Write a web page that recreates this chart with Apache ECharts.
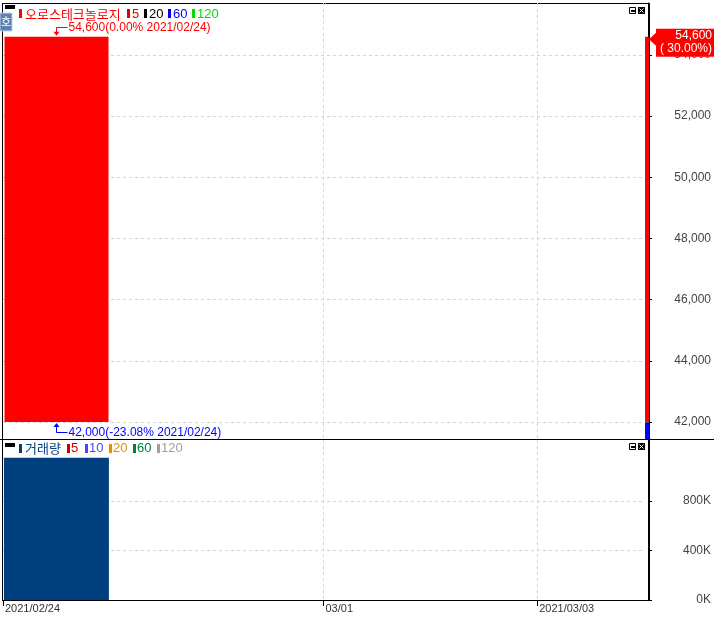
<!DOCTYPE html>
<html><head><meta charset="utf-8">
<script src="https://cdn.jsdelivr.net/npm/echarts@6/dist/echarts.min.js"></script>
<style>html,body{margin:0;padding:0;background:#fff;}#c{width:714px;height:617px;}</style>
</head><body><div id="c"></div>
<script>
// ---------- data ----------
const stockName = '오로스테크놀로지';
const volumeName = '거래량';
const dates = ['2021/02/24','2021/02/25','2021/02/26','2021/03/01','2021/03/02','2021/03/03'];
const xTickLabels = ['2021/02/24','','','03/01','','2021/03/03',''];
const ohlcOpen = [42000];
const ohlcClose = [54600];
const ohlcLow = [42000];
const ohlcHigh = [54600];
const volumes = [1150000];
const prevClose = 42000;
const priceRange = [41444, 55700];
const priceTicks = [42000, 44000, 46000, 48000, 50000, 52000, 54000];
const volumeRange = [0, 1293000];
const volumeTicks = [0, 400000, 800000];
const priceLegendLabels = ['5','20','60','120'];
const priceLegendColors = ['#e00000','#000000','#0000ff','#00dd00'];
const volLegendLabels = ['5','10','20','60','120'];
const volLegendColors = ['#d00000','#4646ff','#e09000','#008040','#a0a0a0'];

// ---------- styling ----------
const FONT = '"Liberation Sans","Noto Sans CJK KR",sans-serif';
const KFONT = '"Noto Sans CJK KR",sans-serif';
const fmt = v => Number(v).toLocaleString('en-US');

const candleData = ohlcOpen.map((o, i) => [o, ohlcClose[i], ohlcLow[i], ohlcHigh[i]]);

function rect(x, y, w, h, fill, extra) { return Object.assign({type:'rect', shape:{x, y, width:w, height:h}, style:{fill}}, extra||{}); }
function line(x1, y1, x2, y2, c) { return {type:'line', shape:{x1, y1, x2, y2}, style:{stroke:c||'#000', lineWidth:1}}; }
function txt(x, y, text, color, font) { return {type:'text', x, y, style:{text, fill:color, font, verticalAlign:'middle', align:'left'}}; }

const graphics = [];
// frame
graphics.push(line(2, 3.5, 649, 3.5));
graphics.push(line(2.5, 3, 2.5, 600));
graphics.push(line(649.5, 3, 649.5, 601));
graphics.push(line(0, 439.5, 714, 439.5));
graphics.push(line(2, 600.5, 650, 600.5));
// top-left black marks
graphics.push(rect(5, 5, 10, 4, '#000'));
graphics.push(rect(5, 443, 10, 4, '#000'));
// 호 button
graphics.push(rect(0, 13, 12, 18, '#5b80b2', {style:{fill:'#5b80b2', stroke:'#c8d4e6', lineWidth:1}}));
graphics.push({type:'text', x:6, y:22, style:{text:'호', fill:'#fff', font:'11px '+KFONT, align:'center', verticalAlign:'middle'}});
// window icons
[7, 443].forEach(y => {
  graphics.push(rect(629.5, y + 0.5, 6, 6, '#fff', {style:{fill:'#fff', stroke:'#000', lineWidth:1}}));
  graphics.push(rect(631, y + 3, 4, 2, '#000'));
  graphics.push(rect(638, y, 7, 7, '#000'));
  graphics.push(line(639.5, y + 1.5, 643.5, y + 5.5, '#fff'));
  graphics.push(line(643.5, y + 1.5, 639.5, y + 5.5, '#fff'));
});
// price legend
graphics.push(rect(19, 9, 3, 9, '#ff0000'));
graphics.push(txt(25, 14, stockName, '#ff0000', '13px ' + KFONT));
const plx = [127, 144, 168, 192];
priceLegendLabels.forEach((l, i) => {
  graphics.push(rect(plx[i], 9, 3, 9, priceLegendColors[i]));
  graphics.push(txt(plx[i] + 5, 14, l, priceLegendColors[i], '13px ' + FONT));
});
// volume legend
graphics.push(rect(19, 444, 3, 9, '#00407f'));
graphics.push(txt(25, 448, volumeName, '#00407f', '13px ' + KFONT));
const vlx = [67, 85, 109, 133, 157];
volLegendLabels.forEach((l, i) => {
  graphics.push(rect(vlx[i], 444, 3, 9, volLegendColors[i]));
  graphics.push(txt(vlx[i] + 4, 448, l, volLegendColors[i], '13px ' + FONT));
});

const dashed = {type:[3,3], color:'#d4d4d4', width:1};
const boundaryTick = (i, v) => v !== '';
const innerLine = (i, v) => v !== '' && i > 0;

const option = {
  animation: false,
  backgroundColor: '#fff',
  textStyle: {fontFamily: FONT},
  grid: [
    {left:3, top:3, width:642, height:436},
    {left:3, top:440, width:642, height:160}
  ],
  xAxis: [
    {type:'category', gridIndex:0, data:dates, position:'top', show:false, boundaryGap:true},
    {type:'category', gridIndex:0, data:xTickLabels, position:'bottom', boundaryGap:false,
      axisLine:{show:false}, axisTick:{show:false}, axisLabel:{show:false},
      splitLine:{show:true, interval:innerLine, lineStyle:dashed}},
    {type:'category', gridIndex:1, data:dates, position:'top', show:false, boundaryGap:true},
    {type:'category', gridIndex:1, data:xTickLabels, position:'bottom', boundaryGap:false,
      axisLine:{show:true, lineStyle:{color:'#000'}},
      axisTick:{show:true, interval:boundaryTick, length:6, lineStyle:{color:'#000'}},
      axisLabel:{show:true, interval:boundaryTick, align:'left', padding:[0,0,0,2], margin:3,
        color:'#333', fontSize:11, fontFamily:FONT},
      splitLine:{show:true, interval:innerLine, lineStyle:dashed}}
  ],
  yAxis: [
    {type:'value', gridIndex:0, position:'right', offset:4,
      min:priceRange[0], max:priceRange[1],
      axisLine:{show:true, lineStyle:{color:'#000'}},
      axisTick:{show:true, length:4, customValues:priceTicks, lineStyle:{color:'#000'}},
      axisLabel:{customValues:priceTicks, align:'right', margin:63,
        formatter:v => fmt(v), color:'#444', fontSize:12, fontFamily:FONT},
      splitLine:{show:true, showMinLine:true, showMaxLine:true, lineStyle:dashed}},
    {type:'value', gridIndex:1, position:'right', offset:4,
      min:volumeRange[0], max:volumeRange[1],
      axisLine:{show:true, lineStyle:{color:'#000'}},
      axisTick:{show:true, length:4, customValues:volumeTicks, lineStyle:{color:'#000'}},
      axisLabel:{customValues:volumeTicks, align:'right', margin:63,
        formatter:v => (v/1000) + 'K', color:'#444', fontSize:12, fontFamily:FONT},
      splitLine:{show:true, showMinLine:true, showMaxLine:true, lineStyle:dashed}}
  ],
  series: [
    {type:'candlestick', xAxisIndex:0, yAxisIndex:0, data:candleData, barWidth:105, barMaxWidth:200,
      itemStyle:{color:'#ff0000', borderColor:'#ff0000', color0:'#0000ff', borderColor0:'#0000ff', borderWidth:0}, z:2},
    {type:'bar', xAxisIndex:2, yAxisIndex:1, data:volumes, barWidth:105,
      itemStyle:{color:'#00407f'}, z:2},
    {type:'custom', xAxisIndex:0, yAxisIndex:0, z:5, clip:false,
      data: ohlcHigh.map((h, i) => [i, h]),
      renderItem: function(params, api) {
        const i = api.value(0);
        const hi = api.coord([i, ohlcHigh[i]]);
        const cx = Math.round(hi[0] - 0.5) + 0.5;
        const yH = hi[1];
        const yL = api.coord([i, ohlcLow[i]])[1];
        const yC = api.coord([i, ohlcClose[i]])[1];
        const yP = api.coord([i, prevClose])[1];
        const cs = params.coordSys;
        const right = cs.x + cs.width;
        const bottom = cs.y + cs.height;
        const close = ohlcClose[i];
        const hiPct = (ohlcHigh[i] - close) / close * 100;
        const loPct = (ohlcLow[i] - close) / close * 100;
        const chg = (close - prevClose) / prevClose * 100;
        const yh = Math.round(yH - 10) + 0.5;
        const yl = Math.round(yL + 10) + 0.5;
        const red = '#ff0000', blue = '#0000ff';
        const tf = '12px ' + FONT;
        const children = [
          {type:'polyline', shape:{points:[[cx + 11, yh], [cx, yh], [cx, yH - 4]]}, style:{stroke:red, fill:null, lineWidth:1}},
          {type:'polygon', shape:{points:[[cx - 3, yH - 5], [cx + 3, yH - 5], [cx, yH - 1]]}, style:{fill:red}},
          {type:'text', x:cx + 12, y:yh, style:{text: fmt(ohlcHigh[i]) + '(' + hiPct.toFixed(2) + '% ' + dates[i] + ')', fill:red, font:tf, verticalAlign:'middle'}},
          {type:'polyline', shape:{points:[[cx + 11, yl], [cx, yl], [cx, yL + 4]]}, style:{stroke:blue, fill:null, lineWidth:1}},
          {type:'polygon', shape:{points:[[cx - 3, yL + 5], [cx + 3, yL + 5], [cx, yL + 1]]}, style:{fill:blue}},
          {type:'text', x:cx + 12, y:yl, style:{text: fmt(ohlcLow[i]) + '(' + loPct.toFixed(2) + '% ' + dates[i] + ')', fill:blue, font:tf, verticalAlign:'middle'}},
          // right-side range indicator
          {type:'rect', shape:{x:right + 1, y:yC, width:4, height:yP - yC}, style:{fill:red}},
          {type:'rect', shape:{x:right + 1, y:yP, width:4, height:bottom - yP}, style:{fill:blue}},
          {type:'rect', shape:{x:right + 1, y:yP - 0.5, width:4, height:1}, style:{fill:'#3a9a3a'}},
          // current price tag
          {type:'polygon', shape:{points:[[right + 5, yC + 2.5], [right + 12, yC - 4], [right + 12, yC + 9]]}, style:{fill:red}},
          {type:'rect', shape:{x:right + 12, y:yC - 8, width:60, height:28}, style:{fill:red}},
          {type:'text', x:712, y:yC - 0.5, style:{text: fmt(close), fill:'#fff', font:tf, align:'right', verticalAlign:'middle'}},
          {type:'text', x:712, y:yC + 12, style:{text: '( ' + chg.toFixed(2) + '%)', fill:'#fff', font:tf, align:'right', verticalAlign:'middle'}}
        ];
        return {type:'group', children};
      }
    }
  ],
  graphic: graphics
};
const chart = echarts.init(document.getElementById('c'), null, {renderer:'canvas'});
chart.setOption(option);
</script>
</body></html>
